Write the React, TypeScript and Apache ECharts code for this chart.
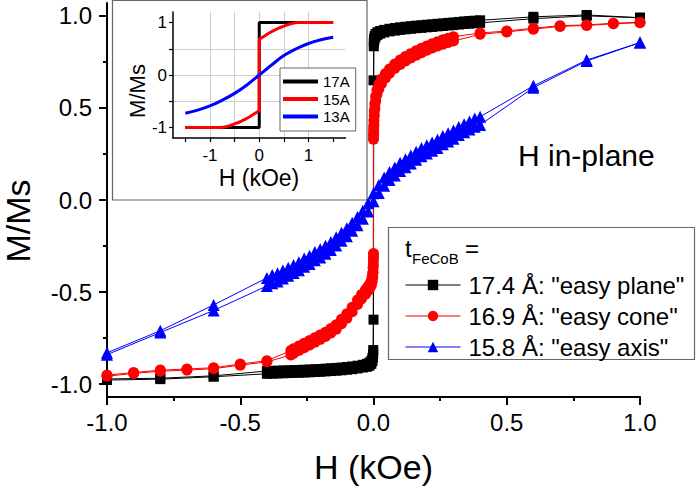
import { useEffect, useRef } from 'react';
import * as echarts from 'echarts';

const FONT = '"Liberation Sans", Arial, Helvetica, sans-serif';

// ---------- main panel data: H (kOe) and M/Ms ----------
// 17.4 Å "easy plane" (black squares)
const blackSparseUpDesc = [[1.0, 0.99], [0.8, 1.005], [0.6, 0.995], [0.4, 0.976]];
const blackUpH = [0.38, 0.36, 0.34, 0.32, 0.30, 0.28, 0.26, 0.24, 0.22, 0.20, 0.18, 0.16, 0.14, 0.12, 0.10, 0.08, 0.06, 0.04, 0.025, 0.015, 0.008, 0.004, 0.002, 0.001];
const blackUpDesc = [0.974, 0.972, 0.970, 0.967, 0.964, 0.962, 0.959, 0.957, 0.954, 0.952, 0.949, 0.947, 0.944, 0.941, 0.938, 0.934, 0.930, 0.924, 0.918, 0.911, 0.902, 0.89, 0.875, 0.86];
const blackUpAsc = [0.960, 0.958, 0.956, 0.953, 0.950, 0.948, 0.945, 0.943, 0.940, 0.938, 0.935, 0.933, 0.930, 0.927, 0.924, 0.920, 0.916, 0.910, 0.904, 0.897, 0.887, 0.872, 0.855, 0.835];
const blackSwitchDown = [0, 0.65];
const blackSwitchUp = [0, -0.65];
const blackLowH = [-0.001, -0.002, -0.004, -0.008, -0.015, -0.025, -0.04, -0.06, -0.08, -0.10, -0.12, -0.14, -0.16, -0.18, -0.20, -0.22, -0.24, -0.26, -0.28, -0.30, -0.32, -0.34, -0.36, -0.38, -0.40];
const blackLowDesc = [-0.815, -0.838, -0.858, -0.873, -0.883, -0.890, -0.895, -0.900, -0.904, -0.907, -0.910, -0.912, -0.914, -0.916, -0.918, -0.919, -0.921, -0.922, -0.923, -0.924, -0.925, -0.926, -0.927, -0.928, -0.929];
const blackLowAsc = [-0.835, -0.855, -0.875, -0.890, -0.900, -0.906, -0.910, -0.915, -0.919, -0.922, -0.925, -0.927, -0.929, -0.931, -0.933, -0.934, -0.936, -0.937, -0.938, -0.939, -0.940, -0.941, -0.942, -0.943, -0.944];
const blackSparseLowDesc = [[-0.6, -0.955], [-0.8, -0.968], [-1.0, -0.972]];
const blackSparseLowAsc = [[-1.0, -0.978], [-0.8, -0.973], [-0.6, -0.96]];
const blackSparseUpAsc = [[0.4, 0.962], [0.6, 0.985], [0.8, 1.0], [1.0, 0.99]];

// 16.9 Å "easy cone" (red circles)
const redSparseUpDesc = [[1.0, 0.966], [0.9, 0.96], [0.8, 0.951], [0.7, 0.947], [0.6, 0.933], [0.5, 0.918], [0.4, 0.907]];
const redUpH = [0.30, 0.28, 0.26, 0.24, 0.22, 0.20, 0.18, 0.16, 0.14, 0.12, 0.10, 0.08, 0.06, 0.045, 0.03, 0.02, 0.013, 0.008, 0.005, 0.003, 0.0015, 0.0005, 0];
const redUpDesc = [0.887, 0.879, 0.870, 0.860, 0.849, 0.837, 0.824, 0.810, 0.795, 0.779, 0.760, 0.739, 0.712, 0.687, 0.657, 0.627, 0.597, 0.562, 0.522, 0.482, 0.432, 0.39, 0.35];
const redUpAsc = [0.863, 0.855, 0.846, 0.836, 0.825, 0.813, 0.800, 0.786, 0.771, 0.755, 0.736, 0.715, 0.688, 0.663, 0.633, 0.603, 0.573, 0.538, 0.498, 0.458, 0.408, 0.37, 0.33];
const redLowH = [0, -0.0005, -0.0015, -0.003, -0.005, -0.008, -0.013, -0.02, -0.03, -0.045, -0.06, -0.08, -0.10, -0.12, -0.14, -0.16, -0.18, -0.20, -0.22, -0.24, -0.26, -0.28, -0.30, -0.31];
const redLowDesc = [-0.29, -0.328, -0.368, -0.398, -0.418, -0.438, -0.453, -0.468, -0.488, -0.513, -0.543, -0.583, -0.618, -0.648, -0.678, -0.698, -0.718, -0.733, -0.748, -0.763, -0.778, -0.793, -0.808, -0.818];
const redLowAsc = [-0.31, -0.352, -0.392, -0.422, -0.442, -0.462, -0.477, -0.492, -0.512, -0.537, -0.567, -0.607, -0.642, -0.672, -0.702, -0.722, -0.742, -0.757, -0.772, -0.787, -0.802, -0.817, -0.832, -0.842];
const redSparseLowDesc = [[-0.4, -0.873], [-0.5, -0.891], [-0.6, -0.911], [-0.7, -0.918], [-0.8, -0.924], [-0.9, -0.937], [-1.0, -0.951]];
const redSparseLowAsc = [[-1.0, -0.957], [-0.9, -0.942], [-0.8, -0.93], [-0.7, -0.924], [-0.6, -0.916], [-0.5, -0.897], [-0.4, -0.879]];
const redSparseUpAsc = [[0.4, 0.90], [0.5, 0.913], [0.6, 0.928], [0.7, 0.943], [0.8, 0.948], [0.9, 0.957], [1.0, 0.963]];

// 15.8 Å "easy axis" (blue triangles)
const blueSparseUpDesc = [[1.0, 0.855], [0.8, 0.76], [0.6, 0.62]];
const blueH = [0.40, 0.38, 0.36, 0.34, 0.32, 0.30, 0.28, 0.26, 0.24, 0.22, 0.20, 0.18, 0.16, 0.14, 0.12, 0.10, 0.08, 0.06, 0.04, 0.02, 0.0,
  -0.02, -0.04, -0.06, -0.08, -0.10, -0.12, -0.14, -0.16, -0.18, -0.20, -0.22, -0.24, -0.26, -0.28, -0.30, -0.32, -0.34, -0.36, -0.38, -0.40];
const blueDesc = [0.452, 0.442, 0.427, 0.412, 0.397, 0.377, 0.362, 0.347, 0.327, 0.312, 0.297, 0.282, 0.262, 0.242, 0.222, 0.202, 0.177, 0.152, 0.122, 0.082, 0.037,
  -0.018, -0.058, -0.093, -0.123, -0.153, -0.178, -0.203, -0.228, -0.248, -0.268, -0.283, -0.303, -0.318, -0.338, -0.353, -0.368, -0.383, -0.398, -0.408, -0.423];
const blueAsc = [0.408, 0.398, 0.383, 0.368, 0.353, 0.333, 0.318, 0.303, 0.283, 0.268, 0.253, 0.238, 0.218, 0.198, 0.178, 0.158, 0.133, 0.108, 0.078, 0.038, -0.007,
  -0.062, -0.102, -0.137, -0.167, -0.197, -0.222, -0.247, -0.272, -0.292, -0.312, -0.327, -0.347, -0.362, -0.382, -0.397, -0.412, -0.427, -0.442, -0.452, -0.467];
const blueSparseLowDesc = [[-0.6, -0.57], [-0.8, -0.71], [-1.0, -0.83]];
const blueSparseLowAsc = [[-1.0, -0.84], [-0.8, -0.72], [-0.6, -0.60]];
const blueSparseUpAsc = [[0.6, 0.61], [0.8, 0.755], [1.0, 0.855]];

// ---------- inset data ----------
const inset17 = [[-1.5, -1], [0, -1], [0, 1], [1.5, 1]];
const inset15 = [
  [-1.5, -1], [-0.78, -1], [-0.7, -0.99], [-0.6, -0.965], [-0.5, -0.93], [-0.4, -0.895],
  [-0.3, -0.85], [-0.2, -0.8], [-0.1, -0.74], [-0.05, -0.71], [0, -0.68],
  [0, 0.68], [0.05, 0.71], [0.1, 0.74], [0.2, 0.8], [0.3, 0.85], [0.4, 0.895],
  [0.5, 0.93], [0.6, 0.965], [0.7, 0.99], [0.78, 1], [1.5, 1],
];
const inset13 = [
  [-1.5, -0.73], [-1.25, -0.67], [-1, -0.59], [-0.75, -0.48], [-0.5, -0.35], [-0.25, -0.19],
  [0, 0], [0.25, 0.19], [0.5, 0.37], [0.75, 0.5], [1, 0.6], [1.25, 0.67], [1.5, 0.72],
];

// ---------- ticks / labels ----------
const mainYMajor = [-1, -0.5, 0, 0.5, 1];
const mainYMinor = [-0.75, -0.25, 0.25, 0.75];
const insetXTicks = [-1.5, -1, -0.5, 0, 0.5, 1, 1.5];
const insetXLabels = [-1, 0, 1];
const insetYTicks = [-1, -0.5, 0, 0.5, 1];
const insetYLabels = [-1, 0, 1];

const seriesNames = ['17.4 Å: "easy plane"', '16.9 Å: "easy cone"', '15.8 Å: "easy axis"'];
const insetNames = ['17A', '15A', '13A'];
const colors = ['#000000', '#ff0000', '#0000ff'];

const rev = <T,>(a: T[]) => a.slice().reverse();
const zip = (h: number[], m: number[]) => h.map((x, i) => [x, m[i]]);

const blackData = [
  ...blackSparseUpDesc, ...zip(blackUpH, blackUpDesc), blackSwitchDown, ...zip(blackLowH, blackLowDesc), ...blackSparseLowDesc,
  ...blackSparseLowAsc, ...rev(zip(blackLowH, blackLowAsc)), blackSwitchUp, ...rev(zip(blackUpH, blackUpAsc)), ...blackSparseUpAsc,
];
const redData = [
  ...redSparseUpDesc, ...zip(redUpH, redUpDesc), ...zip(redLowH, redLowDesc), ...redSparseLowDesc,
  ...redSparseLowAsc, ...rev(zip(redLowH, redLowAsc)), ...rev(zip(redUpH, redUpAsc)), ...redSparseUpAsc,
];
const blueData = [
  ...blueSparseUpDesc, ...zip(blueH, blueDesc), ...blueSparseLowDesc,
  ...blueSparseLowAsc, ...rev(zip(blueH, blueAsc)), ...blueSparseUpAsc,
];

function buildOption() {
  const axisBlack = { color: '#000' };
  return {
    animation: false,
    backgroundColor: '#fff',
    textStyle: { fontFamily: FONT, color: '#000' },
    grid: [
      { left: 107, top: 3, width: 533, height: 394, containLabel: false },
      { left: 173, top: 12, width: 172.5, height: 126, containLabel: false },
    ],
    xAxis: [
      {
        gridIndex: 0, type: 'value', min: -1, max: 1, interval: 0.5,
        axisLine: { onZero: false, lineStyle: { ...axisBlack, width: 2 } },
        axisTick: { length: 8, lineStyle: { ...axisBlack, width: 2 } },
        minorTick: { show: true, splitNumber: 2, length: 4, lineStyle: { ...axisBlack, width: 2 } },
        axisLabel: { fontSize: 24, color: '#000', fontFamily: FONT, margin: 13, formatter: (v: number) => v.toFixed(1) },
        splitLine: { show: false },
        name: 'H (kOe)', nameLocation: 'middle', nameGap: 53,
        nameTextStyle: { fontSize: 34, color: '#000', fontFamily: FONT },
      },
      {
        gridIndex: 1, type: 'value', min: -1.75, max: 1.75, splitNumber: 7,
        axisLine: { onZero: false, lineStyle: { ...axisBlack, width: 1.5 } },
        axisTick: { customValues: insetXTicks, length: 4, lineStyle: { ...axisBlack, width: 1.2 } },
        axisLabel: { customValues: insetXLabels, fontSize: 17, color: '#000', fontFamily: FONT, margin: 9, formatter: (v: number) => String(v) },
        splitLine: { show: true, showMinLine: false, showMaxLine: false, lineStyle: { color: '#cfcfcf', width: 1 } },
      },
    ],
    yAxis: [
      {
        gridIndex: 0, type: 'value', min: -1.07, max: 1.07, position: 'left',
        axisLine: { onZero: false, lineStyle: { ...axisBlack, width: 2 } },
        axisTick: { customValues: mainYMajor, length: 8, lineStyle: { ...axisBlack, width: 2 } },
        axisLabel: { customValues: mainYMajor, fontSize: 24, color: '#000', fontFamily: FONT, margin: 15, formatter: (v: number) => v.toFixed(1) },
        splitLine: { show: false },
      },
      {
        gridIndex: 0, type: 'value', min: -1.07, max: 1.07, position: 'left', offset: 0,
        axisLine: { show: false, onZero: false },
        axisTick: { customValues: mainYMinor, length: 4, lineStyle: { ...axisBlack, width: 2 } },
        axisLabel: { show: false },
        splitLine: { show: false },
      },
      {
        gridIndex: 1, type: 'value', min: -1.2, max: 1.2, splitNumber: 5,
        axisLine: { onZero: false, lineStyle: { ...axisBlack, width: 1.5 } },
        axisTick: { customValues: insetYTicks, length: 4, lineStyle: { ...axisBlack, width: 1.2 } },
        axisLabel: { customValues: insetYLabels, fontSize: 17, color: '#000', fontFamily: FONT, margin: 6, formatter: (v: number) => String(v) },
        splitLine: { show: true, showMinLine: false, showMaxLine: false, lineStyle: { color: '#cfcfcf', width: 1 } },
      },
    ],
    legend: [
      {
        data: seriesNames, orient: 'vertical', left: 405, top: 273, padding: 0,
        itemWidth: 55, itemHeight: 13, itemGap: 7,
        lineStyle: { width: 1 },
        textStyle: { fontSize: 24, lineHeight: 24, color: '#000', fontFamily: FONT, padding: [0, 0, 0, 3] },
        selectedMode: false,
      },
      {
        data: insetNames, orient: 'vertical', left: 280, top: 68, padding: [6, 6, 7, 3],
        backgroundColor: '#fff', borderColor: '#666', borderWidth: 1,
        icon: 'rect', itemWidth: 35, itemHeight: 4, itemGap: 2.5,
        textStyle: { fontSize: 15, lineHeight: 15, color: '#000', fontFamily: FONT },
        selectedMode: false,
      },
    ],
    series: [
      {
        name: seriesNames[0], type: 'line', xAxisIndex: 0, yAxisIndex: 0, data: blackData,
        symbol: 'rect', symbolSize: 10, lineStyle: { color: colors[0], width: 1 }, itemStyle: { color: colors[0] },
      },
      {
        name: seriesNames[1], type: 'line', xAxisIndex: 0, yAxisIndex: 0, data: redData,
        symbol: 'circle', symbolSize: 11, lineStyle: { color: colors[1], width: 1 }, itemStyle: { color: colors[1] },
      },
      {
        name: seriesNames[2], type: 'line', xAxisIndex: 0, yAxisIndex: 0, data: blueData,
        symbol: 'triangle', symbolSize: 12, lineStyle: { color: colors[2], width: 1 }, itemStyle: { color: colors[2] },
      },
      {
        name: insetNames[0], type: 'line', xAxisIndex: 1, yAxisIndex: 2, data: inset17, showSymbol: false, symbol: 'none',
        lineStyle: { color: colors[0], width: 3 }, itemStyle: { color: colors[0] },
      },
      {
        name: insetNames[1], type: 'line', xAxisIndex: 1, yAxisIndex: 2, data: inset15, showSymbol: false, symbol: 'none',
        lineStyle: { color: colors[1], width: 3 }, itemStyle: { color: colors[1] },
      },
      {
        name: insetNames[2], type: 'line', xAxisIndex: 1, yAxisIndex: 2, data: inset13, showSymbol: false, symbol: 'none',
        smooth: 0.4, lineStyle: { color: colors[2], width: 3 }, itemStyle: { color: colors[2] },
      },
    ],
    graphic: [
      { type: 'rect', shape: { x: 112.5, y: 0.5, width: 254.5, height: 199.5 }, style: { fill: 'none', stroke: '#666', lineWidth: 1.2 }, silent: true },
      { type: 'rect', shape: { x: 388.5, y: 227.5, width: 306, height: 132 }, style: { fill: 'none', stroke: '#666', lineWidth: 1.2 }, silent: true },
      { type: 'text', x: 518, y: 155, style: { text: 'H in-plane', fontSize: 30, fontFamily: FONT, fill: '#000', align: 'left', verticalAlign: 'middle' }, silent: true },
      { type: 'text', x: 405, y: 248, style: { text: 't', fontSize: 24, fontFamily: FONT, fill: '#000', align: 'left', verticalAlign: 'middle' }, silent: true },
      { type: 'text', x: 412, y: 258, style: { text: 'FeCoB', fontSize: 15, fontFamily: FONT, fill: '#000', align: 'left', verticalAlign: 'middle' }, silent: true },
      { type: 'text', x: 465, y: 248, style: { text: '=', fontSize: 24, fontFamily: FONT, fill: '#000', align: 'left', verticalAlign: 'middle' }, silent: true },
      { type: 'text', x: 17.5, y: 221, rotation: Math.PI / 2, style: { text: 'M/Ms', fontSize: 34, fontFamily: FONT, fill: '#000', align: 'center', verticalAlign: 'middle' }, silent: true },
      { type: 'text', x: 137, y: 91, rotation: Math.PI / 2, style: { text: 'M/Ms', fontSize: 22, fontFamily: FONT, fill: '#000', align: 'center', verticalAlign: 'middle' }, silent: true },
      { type: 'text', x: 259, y: 178, style: { text: 'H (kOe)', fontSize: 23, fontFamily: FONT, fill: '#000', align: 'center', verticalAlign: 'middle' }, silent: true },
    ],
  };
}

export default function App() {
  const ref = useRef<HTMLDivElement>(null);
  useEffect(() => {
    const chart = echarts.init(ref.current!, null, { renderer: 'svg', width: 700, height: 491 });
    chart.setOption(buildOption() as any);
    return () => chart.dispose();
  }, []);
  return <div ref={ref} style={{ position: 'absolute', left: 0, top: 0, width: 700, height: 491 }} />;
}
